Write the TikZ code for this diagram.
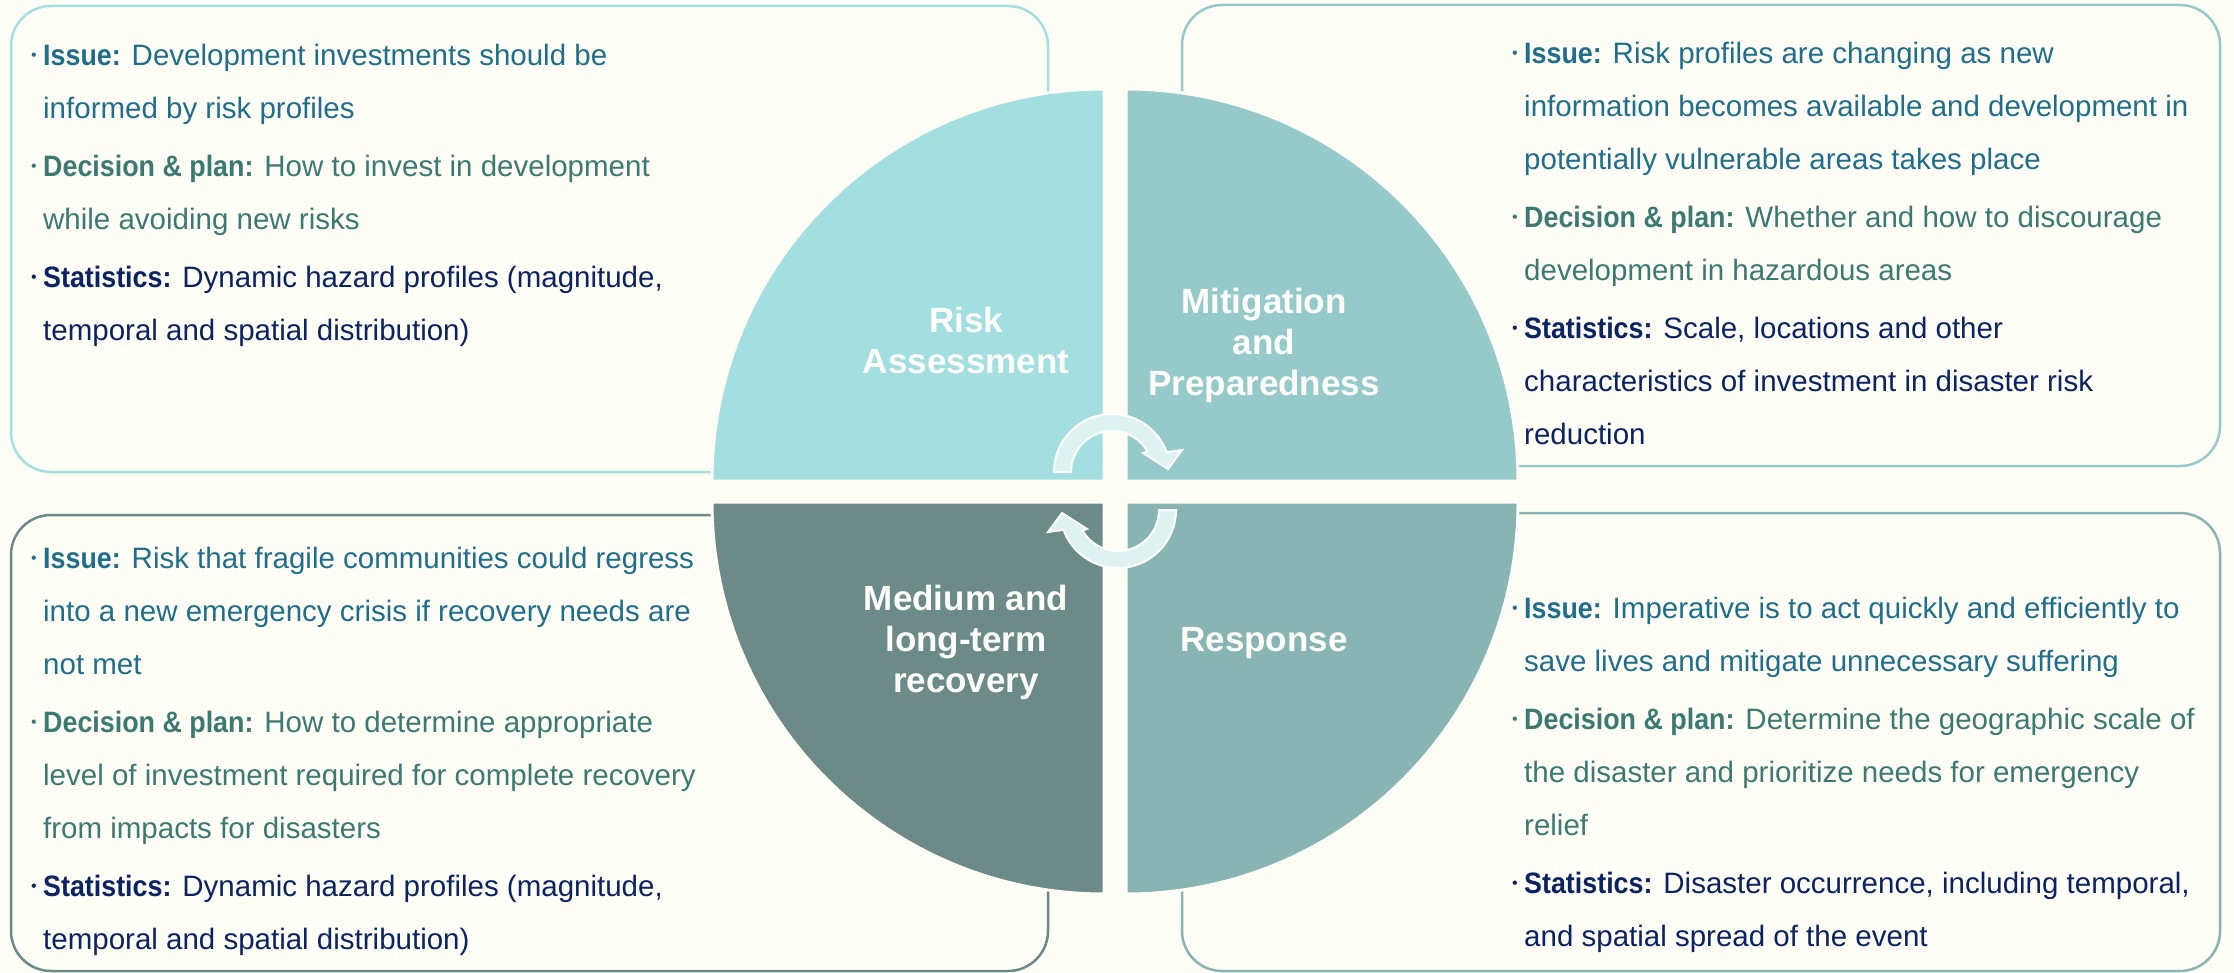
\documentclass[tikz,border=0pt]{standalone}
\usepackage{fontspec}
\setmainfont{Liberation Sans}
\newfontfamily\bodyfont{Liberation Sans}
\newfontfamily\keyfont{Liberation Sans}[FakeStretch=0.91]

\definecolor{bg}{HTML}{FEFDF6}
\definecolor{qRisk}{HTML}{A3DFE0}
\definecolor{qMit}{HTML}{96CACA}
\definecolor{qResp}{HTML}{88B4B4}
\definecolor{qRec}{HTML}{6B8A88}
\definecolor{cIssue}{HTML}{1F6F8B}
\definecolor{cPlan}{HTML}{3B7A72}
\definecolor{cStat}{HTML}{0B2363}
\definecolor{cycfill}{HTML}{DFF2F2}
\definecolor{labelc}{HTML}{FEFEFA}

% bullet, bold key word and hanging indent for the item lists
\newcommand\bul{\makebox[12pt][l]{\raisebox{5pt}{\fontsize{16}{16}\selectfont\textbullet}}}
\newcommand\key[1]{{\keyfont\bfseries #1}}
\newcommand\ind{\hspace*{12pt}}

\tikzset{
  infobox/.style={rounded corners=40pt, line width=2.5pt},
  quad/.style={draw=bg, line width=3pt},
  qlabel/.style={font=\bfseries\fontsize{35}{41}\selectfont, text=labelc, align=center, inner sep=0pt, anchor=north},
  itemtext/.style={font=\bodyfont\fontsize{29.5}{53}\selectfont, align=left, inner sep=0pt, anchor=north west},
  cyc/.style={fill=cycfill, draw=white, line width=2pt, line join=miter}
}

\begin{document}
\begin{tikzpicture}[x=1pt,y=-1pt]
\fill[bg] (0,0) rectangle (2234,973);
\useasboundingbox (0,0) rectangle (2234,973);

% outer information boxes
\draw[infobox, draw=qRisk] (11,6) rectangle (1048,472);
\draw[infobox, draw=qMit]  (1182,5) rectangle (2220,466);
\draw[infobox, draw=qRec]  (11,515) rectangle (1048,971);
\draw[infobox, draw=qResp] (1182,513) rectangle (2220,971);

% the four quadrants of the cycle
\path[quad, fill=qRisk] (1104,481) -- (712,481) arc[start angle=180, end angle=270, radius=392] -- cycle;
\path[quad, fill=qMit]  (1126,481) -- (1126,89) arc[start angle=270, end angle=360, radius=392] -- cycle;
\path[quad, fill=qResp] (1126,502) -- (1518,502) arc[start angle=0, end angle=90, radius=392] -- cycle;
\path[quad, fill=qRec]  (1104,502) -- (1104,894) arc[start angle=90, end angle=180, radius=392] -- cycle;

% curved cycle arrows in the middle
\begin{scope}[shift={(1112,472)}]
  \path[cyc] (180:58) arc[start angle=180, end angle=340, radius=58]
    -- (70,-22) -- (56,-3) -- (31,-19) -- (330:41)
    arc[start angle=330, end angle=180, radius=41] -- cycle;
\end{scope}
\begin{scope}[shift={(1118,510)}]
  \path[cyc] (0:58) arc[start angle=0, end angle=160, radius=58]
    -- (-70,22) -- (-56,3) -- (-31,19) -- (150:41)
    arc[start angle=150, end angle=0, radius=41] -- cycle;
\end{scope}

% quadrant titles
\node[qlabel] (risk) at (966,302) {\rule{0pt}{30pt}Risk\\Assessment};
\node[qlabel] (mit) at (1264,283) {\rule{0pt}{30pt}Mitigation\\and\\Preparedness};
\node[qlabel] (rec) at (966,580) {\rule{0pt}{30pt}Medium and\\long-term\\recovery};
\node[qlabel] (resp) at (1264,621) {\rule{0pt}{30pt}Response};

% item lists
\node[itemtext] (risktext) at (31,35) {%
\rule{0pt}{30pt}{\color{cIssue}\bul\key{Issue:} Development investments should be}\\
{\color{cIssue}\ind informed by risk profiles}\\[5pt]
{\color{cPlan}\bul\key{Decision \& plan:} How to invest in development}\\
{\color{cPlan}\ind while avoiding new risks}\\[5pt]
{\color{cStat}\bul\key{Statistics:} Dynamic hazard profiles (magnitude,}\\
{\color{cStat}\ind temporal and spatial distribution)}};

\node[itemtext] (mittext) at (1512,33) {%
\rule{0pt}{30pt}{\color{cIssue}\bul\key{Issue:} Risk profiles are changing as new}\\
{\color{cIssue}\ind information becomes available and development in}\\
{\color{cIssue}\ind potentially vulnerable areas takes place}\\[5pt]
{\color{cPlan}\bul\key{Decision \& plan:} Whether and how to discourage}\\
{\color{cPlan}\ind development in hazardous areas}\\[5pt]
{\color{cStat}\bul\key{Statistics:} Scale, locations and other}\\
{\color{cStat}\ind characteristics of investment in disaster risk}\\
{\color{cStat}\ind reduction}};

\node[itemtext] (rectext) at (31,538) {%
\rule{0pt}{30pt}{\color{cIssue}\bul\key{Issue:} Risk that fragile communities could regress}\\
{\color{cIssue}\ind into a new emergency crisis if recovery needs are}\\
{\color{cIssue}\ind not met}\\[5pt]
{\color{cPlan}\bul\key{Decision \& plan:} How to determine appropriate}\\
{\color{cPlan}\ind level of investment required for complete recovery}\\
{\color{cPlan}\ind from impacts for disasters}\\[5pt]
{\color{cStat}\bul\key{Statistics:} Dynamic hazard profiles (magnitude,}\\
{\color{cStat}\ind temporal and spatial distribution)}};

\node[itemtext] (resptext) at (1512,588) {%
\rule{0pt}{30pt}{\color{cIssue}\bul\key{Issue:} Imperative is to act quickly and efficiently to}\\
{\color{cIssue}\ind save lives and mitigate unnecessary suffering}\\[5pt]
{\color{cPlan}\bul\key{Decision \& plan:} Determine the geographic scale of}\\
{\color{cPlan}\ind the disaster and prioritize needs for emergency}\\
{\color{cPlan}\ind relief}\\[5pt]
{\color{cStat}\bul\key{Statistics:} Disaster occurrence, including temporal,}\\
{\color{cStat}\ind and spatial spread of the event}};
\end{tikzpicture}
\end{document}
